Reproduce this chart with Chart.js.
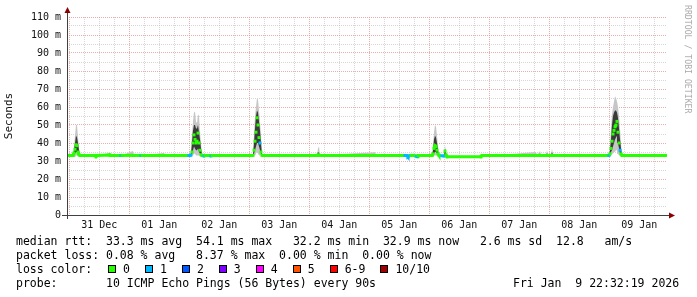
<!DOCTYPE html>
<html>
<head>
<meta charset="utf-8">
<script src="https://cdn.jsdelivr.net/npm/chart.js@4.4.1/dist/chart.umd.min.js"></script>
<style>
	html, body { margin: 0; padding: 0; background: #fff; }
	#wrap { position: relative; width: 697px; height: 297px; overflow: hidden; background: #fff; }
	#chart { position: absolute; left: 0; top: 0; }
	.txt { position: absolute; margin: 0; font-family: 'DejaVu Sans Mono', monospace; font-size: 11.5px; line-height: 14px; color: #000; white-space: pre; }
	#lossRow { display: flex; align-items: center; height: 14px; }
	#lossRow .head { width: 92px; }
	#lossRow .box { width: 6px; height: 6px; border: 1px solid #000; margin-right: 7px; }
	#lossRow .lbl { margin-right: 15px; }
	#mark { position: absolute; left: 692px; top: 5px; transform-origin: 0 0; transform: rotate(90deg); font-family: 'DejaVu Sans Mono', monospace; font-size: 8.2px; line-height: 9px; color: #aaa; white-space: pre; }
</style>
</head>
<body>
<div id="wrap">
	<canvas id="chart" width="697" height="297"></canvas>
	<pre class="txt" style="left:16px;top:234px">median rtt:  33.3 ms avg  54.1 ms max   32.2 ms min  32.9 ms now   2.6 ms sd  12.8   am/s
packet loss: 0.08 % avg   8.37 % max  0.00 % min  0.00 % now</pre>
	<div class="txt" id="lossRow" style="left:16px;top:262px"></div>
	<pre class="txt" style="left:16px;top:276px">probe:       10 ICMP Echo Pings (56 Bytes) every 90s</pre>
	<div class="txt" style="left:513px;top:276px">Fri Jan  9 22:32:19 2026</div>
	<div id="mark">RRDTOOL / TOBI OETIKER</div>
</div>
<script>
// hours since 31 Dec 00:00
const hours = [
	-0.92, 1.48, 1.88, 2.28, 2.68, 3.08, 3.48, 3.88, 4.28,
	10.28, 10.68, 11.08, 16.28, 16.68, 19.88, 20.68, 21.08, 25.48, 25.88, 27.88, 28.68, 29.08, 37.88, 38.28,
	46.68, 48.28, 48.68, 49.08, 49.48, 49.88, 50.28, 50.68, 51.08, 51.48, 51.88, 52.28, 52.68, 53.08, 53.88, 54.28, 55.88, 56.68, 57.08,
	73.48, 73.88, 74.28, 74.68, 75.08, 75.48, 75.88, 76.28, 76.68, 77.08,
	99.08, 99.48, 99.88, 100.28, 122.28, 122.68,
	133.48, 134.28, 135.08, 135.48, 136.28, 136.68, 137.88, 139.08, 139.48,
	145.08, 145.48, 145.88, 146.28, 146.68, 147.08, 147.48, 147.88, 149.88, 150.28, 150.68, 151.08, 164.68, 165.08,
	171.08, 171.48, 186.68, 187.08, 188.28, 188.68, 190.68, 191.08, 191.48, 192.68, 193.08, 193.48,
	215.08, 215.88, 216.28, 216.68, 217.08, 217.48, 217.88, 218.28, 218.68, 219.08, 219.48, 219.88, 220.28, 220.68, 221.08, 238.56,
];

const medianRtt = [
	33.1, 33.1, 34.5, 36.5, 39, 38.5, 35, 33.5, 33.1,
	33.1, 32.4, 33.1, 33.3, 33.1, 33.1, 33.1, 33.1, 33.1, 33.1, 33.1, 33.1, 33.1, 33.1, 33.1,
	33.1, 33.1, 33.3, 35, 40, 44.5, 42, 40, 41, 45.5, 40, 36, 33.5, 33.1, 32.8, 33.1, 33.1, 32.8, 33.1,
	33.1, 36, 41, 46, 54, 50, 43, 40, 35, 33.1,
	33.1, 33.3, 33.2, 33.1, 33.1, 33.1,
	33.1, 33.1, 33.0, 32.3, 33.1, 33.1, 33.1, 32.4, 33.1,
	33.1, 34, 37, 38.5, 38, 36, 34, 33.1, 32.8, 35.5, 33.5, 32.3, 32.3, 33.1,
	33.1, 33.1, 33.1, 33.1, 33.1, 33.1, 33.1, 33.1, 33.1, 33.1, 33.1, 33.1,
	33.1, 33.1, 34, 37, 41, 45, 47, 49, 50, 52, 46, 40, 36, 34, 33.1, 33.1,
];

const lossCount = [
	0, 0, 0, 0, 0, 0, 0, 0, 0,
	0, 0, 0, 0, 0, 0, 1, 0, 0, 0, 0, 1, 0, 0, 0,
	0, 1, 1, 0, 0, 0, 0, 0, 0, 0, 0, 0, 0, 0, 1, 0, 0, 1, 0,
	0, 0, 0, 0, 0, 0, 0, 1, 0, 0,
	0, 0, 0, 0, 0, 0,
	0, 1, 1, 1, 1, 0, 0, 1, 0,
	0, 0, 0, 0, 0, 0, 0, 0, 1, 0, 0, 0, 0, 0,
	0, 0, 0, 0, 0, 0, 0, 0, 0, 0, 0, 0,
	0, 1, 0, 0, 0, 0, 0, 0, 0, 0, 0, 0, 1, 0, 0, 0,
];

const smokeMin = [
	33, 33, 32.5, 32, 33, 33, 33, 33, 33,
	33, 33, 33, 33, 33, 33, 33, 33, 33, 33, 33, 33, 33, 33, 33,
	33, 33, 33, 33, 33, 34, 34, 33, 33, 33, 33, 33, 33, 33, 33, 33, 33, 33, 33,
	33, 33, 33, 34, 35, 34, 33, 33, 33, 33,
	33, 33, 33, 33, 33, 33,
	33, 33, 33, 33, 33, 33, 33, 33, 33,
	33, 32, 33, 33, 33, 33, 33, 33, 33, 33, 33, 32, 32, 33,
	33, 33, 33, 33, 33, 33, 33, 33, 33, 33, 33, 33,
	33, 33, 33, 33, 34, 34, 35, 35, 36, 36, 34, 33, 33, 33, 33, 33,
];

const smokeLow = [
	33, 33, 33, 34, 35, 35, 33.5, 33, 33,
	33, 33, 33, 33, 33, 33, 33, 33, 33, 33, 33, 33, 33, 33, 33,
	33, 33, 33, 34, 36, 38, 37, 36, 36, 37, 35, 34, 33, 33, 33, 33, 33, 33, 33,
	33, 34, 36, 38, 40, 40, 38, 36, 34, 33,
	33, 33, 33, 33, 33, 33,
	33, 33, 33, 33, 33, 33, 33, 33, 33,
	33, 33, 34, 35, 35, 34, 33, 33, 33, 33.5, 33, 32.1, 32.1, 33,
	33, 33, 33, 33, 33, 33, 33, 33, 33, 33, 33, 33,
	33, 33, 33, 35, 36, 38, 40, 42, 43, 44, 40, 37, 34, 33, 33, 33,
];

const smokeHigh = [
	33.2, 33.2, 36, 40, 44, 43, 40, 36, 33.2,
	33.2, 33.2, 33.2, 34, 33.2, 33.2, 33.2, 33.2, 33.5, 33.2, 33.2, 33.2, 33.2, 33.4, 33.2,
	33.2, 33.2, 34, 40, 47, 50, 50, 48, 48, 50, 46, 42, 37, 33.2, 33.2, 33.2, 33.2, 33.2, 33.2,
	33.2, 40, 48, 55, 58, 57, 52, 47, 40, 33.2,
	33.2, 35, 34.5, 33.2, 33.5, 33.2,
	33.2, 33.2, 33.2, 33.2, 33.2, 33.2, 33.2, 33.2, 33.2,
	33.2, 36, 42, 44, 43, 40, 36, 33.2, 33.2, 37, 34.5, 32.4, 32.4, 33.2,
	33.4, 33.2, 33.5, 33.2, 34, 33.2, 33.2, 34.5, 33.2, 33.2, 35, 33.2,
	33.2, 33.2, 36, 42, 50, 55, 57, 58, 58, 57, 54, 48, 42, 37, 33.2, 33.2,
];

const smokeMax = [
	33.4, 33.4, 38, 44, 50, 50, 43, 37.5, 33.4,
	33.4, 33.4, 33.4, 34.5, 33.4, 33.4, 33.4, 33.4, 35.5, 33.4, 33.4, 33.4, 33.4, 34.5, 33.4,
	33.4, 33.4, 36, 45, 52, 57, 57.5, 52, 51, 56, 55, 46, 40, 33.4, 33.4, 33.4, 33.4, 33.4, 33.4,
	33.4, 45, 55, 60, 65, 64, 58, 52, 44, 33.4,
	33.4, 37, 38, 33.4, 34.8, 33.4,
	33.4, 33.4, 33.4, 33.4, 33.4, 33.4, 33.4, 33.4, 33.4,
	33.4, 38, 46, 50, 49, 44, 38, 33.4, 33.4, 38.5, 35.5, 32.6, 32.6, 33.4,
	34, 33.4, 35, 33.4, 35.5, 33.4, 33.4, 36, 33.4, 33.4, 37, 33.4,
	33.4, 33.4, 38, 48, 56, 60, 63, 66, 65, 63, 60, 55, 48, 40, 33.4, 33.4,
];

const dayLabels = ['31 Dec', '01 Jan', '02 Jan', '03 Jan', '04 Jan', '05 Jan', '06 Jan', '07 Jan', '08 Jan', '09 Jan'];
const lossLabels = ['0', '1', '2', '3', '4', '5', '6-9', '10/10'];
const lossColors = ['#26ff00', '#00b8ff', '#0059ff', '#7e00ff', '#ff00ff', '#ff5500', '#ff0000', '#a10000'];

const monoFont = "'DejaVu Sans Mono', monospace";
const majorGrid = 'rgba(225, 140, 140, 0.7)';
const minorGrid = 'rgba(180, 180, 180, 0.55)';

const lossColor = (n) => {
	if (n >= 10) return lossColors[7];
	if (n >= 6) return lossColors[6];
	return lossColors[n];
};

const points = (values) => hours.map((h, i) => ({ x: h, y: values[i] }));

// smokeping draws the median as separate dots, so steep joins stay hidden
const medianSegment = (ctx) => {
	if (Math.abs(ctx.p1.parsed.y - ctx.p0.parsed.y) > 1.5) {
		return 'rgba(0,0,0,0)';
	}
	return lossColor(lossCount[ctx.p1DataIndex]);
};

const lossRow = document.getElementById('lossRow');
lossRow.innerHTML = '<span class="head">loss color:</span>' + lossLabels.map((label, i) =>
	`<span class="box" style="background:${lossColors[i]}"></span><span class="lbl">${label}</span>`).join('');

const axisArrows = {
	id: 'axisArrows',
	afterDraw(chart) {
		const { ctx, chartArea: { left, right, top, bottom } } = chart;
		ctx.save();
		ctx.strokeStyle = '#404040';
		ctx.lineWidth = 1;
		ctx.beginPath();
		ctx.moveTo(left - 5, bottom + 0.5);
		ctx.lineTo(right + 3, bottom + 0.5);
		ctx.moveTo(left + 0.5, bottom + 4);
		ctx.lineTo(left + 0.5, top - 5);
		ctx.stroke();
		ctx.fillStyle = '#8b0000';
		ctx.beginPath();
		ctx.moveTo(right + 8, bottom + 0.5);
		ctx.lineTo(right + 2, bottom - 2.5);
		ctx.lineTo(right + 2, bottom + 3.5);
		ctx.closePath();
		ctx.fill();
		ctx.beginPath();
		ctx.moveTo(left + 0.5, top - 10);
		ctx.lineTo(left - 2.5, top - 4);
		ctx.lineTo(left + 3.5, top - 4);
		ctx.closePath();
		ctx.fill();
		ctx.restore();
	},
};

new Chart(document.getElementById('chart'), {
	type: 'line',
	data: {
		datasets: [
			{
				data: points(medianRtt),
				borderWidth: 3,
				borderColor: lossColors[0],
				segment: { borderColor: medianSegment },
				pointStyle: 'rect',
				pointRadius: 2.1,
				pointBorderWidth: 0,
				pointBackgroundColor: (ctx) => lossColor(lossCount[ctx.dataIndex]),
				tension: 0,
				order: 0,
			},
			{
				data: points(smokeMax),
				borderWidth: 0,
				pointRadius: 0,
				fill: 2,
				backgroundColor: '#c6c6c6',
				order: 4,
			},
			{
				data: points(smokeMin),
				borderWidth: 0,
				pointRadius: 0,
				fill: false,
				order: 3,
			},
			{
				data: points(smokeHigh),
				borderWidth: 0,
				pointRadius: 0,
				fill: 4,
				backgroundColor: '#3a3a3a',
				order: 2,
			},
			{
				data: points(smokeLow),
				borderWidth: 0,
				pointRadius: 0,
				fill: false,
				order: 1,
			},
		],
	},
	options: {
		responsive: false,
		animation: false,
		events: [],
		layout: {
			padding: { top: 17, right: 30, left: 0, bottom: 0 },
		},
		plugins: {
			legend: { display: false },
			tooltip: { enabled: false },
		},
		scales: {
			x: {
				type: 'linear',
				min: -0.92,
				max: 239.08,
				afterBuildTicks: (scale) => {
					const ticks = [];
					for (let h = 0; h <= 234; h += 6) {
						ticks.push({ value: h });
					}
					scale.ticks = ticks;
				},
				afterFit: (scale) => {
					scale.height = 82;
				},
				grid: {
					drawTicks: false,
					color: (ctx) => (ctx.tick.value % 24 === 0 ? majorGrid : minorGrid),
				},
				border: { display: false, dash: [1, 1] },
				ticks: {
					autoSkip: false,
					maxRotation: 0,
					padding: 4,
					color: '#111',
					font: { family: monoFont, size: 10 },
					callback: (value) => (value % 24 === 12 ? dayLabels[(value - 12) / 24] : ''),
				},
			},
			y: {
				min: 0,
				max: 110,
				afterFit: (scale) => {
					scale.width = 67;
				},
				grid: {
					drawTicks: false,
					color: (ctx) => (ctx.tick.value % 10 === 0 ? majorGrid : minorGrid),
				},
				border: { display: false, dash: [1, 1] },
				ticks: {
					stepSize: 5,
					autoSkip: false,
					padding: 6,
					color: '#111',
					font: { family: monoFont, size: 10 },
					callback: (value) => {
						if (value % 10 !== 0) return '';
						return value === 0 ? '0' : `${value} m`;
					},
				},
				title: {
					display: true,
					text: 'Seconds',
					color: '#111',
					font: { family: monoFont, size: 11 },
					padding: { top: 3, bottom: 0 },
				},
			},
		},
	},
	plugins: [axisArrows],
});
</script>
</body>
</html>
